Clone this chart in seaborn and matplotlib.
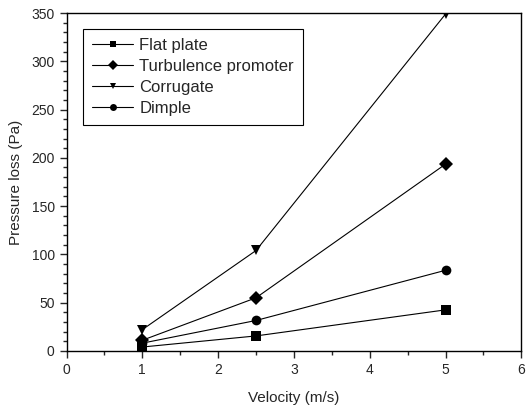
import matplotlib
matplotlib.use("Agg")
import matplotlib.pyplot as plt
import pandas as pd
import seaborn as sns
from matplotlib.ticker import MultipleLocator

velocity = [1, 2.5, 5]
flat_plate = [4, 15.5, 42.5]
turbulence = [11, 55, 193.5]
corrugate = [22, 104, 349]
dimple = [8, 31.5, 83.5]
names = ['Flat plate', 'Turbulence promoter', 'Corrugate', 'Dimple']
markers = ['s', 'D', 'v', 'o']

df = pd.DataFrame({
    'v': velocity * 4,
    'p': flat_plate + turbulence + corrugate + dimple,
    'name': [n for n in names for _ in velocity],
})

sns.set_style('ticks')
plt.rcParams['font.family'] = ['Liberation Sans', 'DejaVu Sans']

fig, ax = plt.subplots(figsize=(5.32, 4.08), dpi=100)
sns.lineplot(data=df, x='v', y='p', hue='name', style='name',
             hue_order=names, style_order=names,
             palette=['black'] * 4, markers=markers, dashes=False,
             markersize=7, linewidth=0.8, markeredgewidth=0, ax=ax)

ax.set_xlim(0, 6)
ax.set_ylim(0, 350)
ax.xaxis.set_major_locator(MultipleLocator(1))
ax.xaxis.set_minor_locator(MultipleLocator(0.5))
ax.yaxis.set_major_locator(MultipleLocator(50))
ax.yaxis.set_minor_locator(MultipleLocator(10))
ax.tick_params(which='major', length=5, width=1, labelsize=10, direction='out')
ax.tick_params(which='minor', length=3, width=1, direction='out')
for s in ax.spines.values():
    s.set_linewidth(1)
    s.set_color('black')
ax.set_xlabel('Velocity (m/s)', fontsize=11, labelpad=10)
ax.set_ylabel('Pressure loss (Pa)', fontsize=11, labelpad=6)

leg = ax.legend(loc='upper left', bbox_to_anchor=(0.037, 0.953), borderaxespad=0,
                fontsize=12, fancybox=False, edgecolor='black', framealpha=1,
                handlelength=2.45, handletextpad=0.35, labelspacing=0.36,
                borderpad=0.55)
leg.get_frame().set_linewidth(0.8)
for h in leg.legend_handles:
    h.set_markersize(5)

plt.subplots_adjust(left=0.125, right=0.98, top=0.968, bottom=0.14)
plt.savefig('out.png', dpi=100)
